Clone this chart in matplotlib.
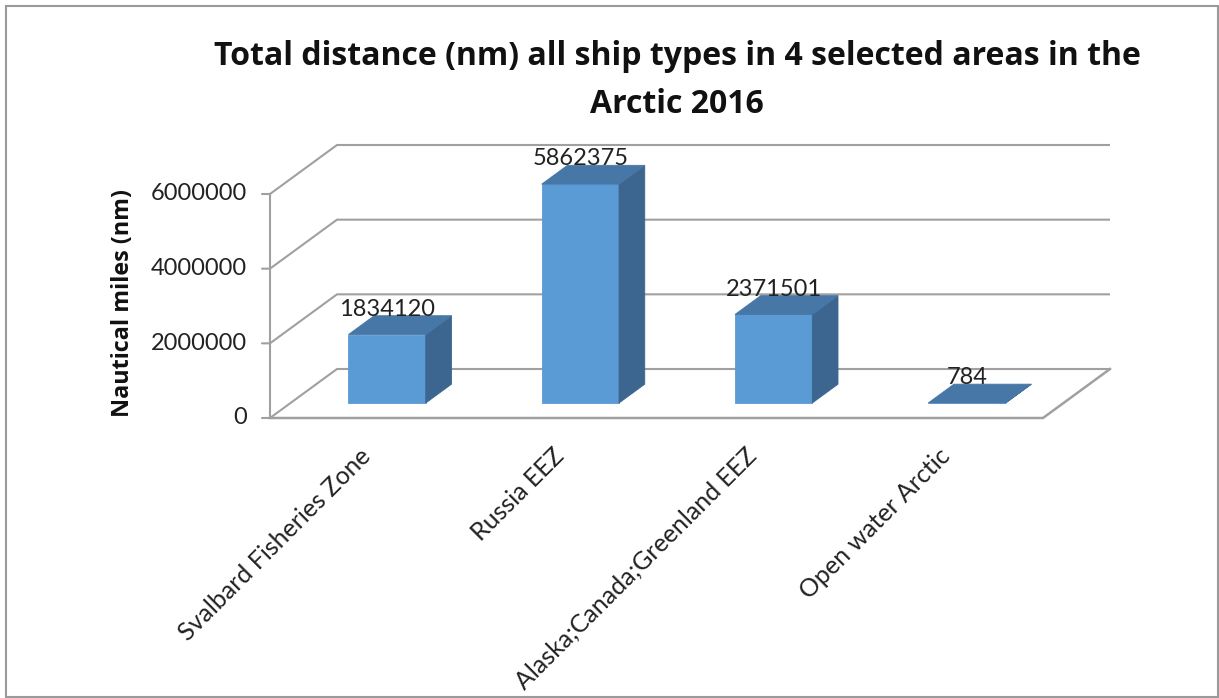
import matplotlib
matplotlib.use('Agg')
import matplotlib.pyplot as plt
from matplotlib.patches import Polygon, Rectangle
from matplotlib.transforms import offset_copy

# ---------------- data ----------------
categories = ['Svalbard Fisheries Zone', 'Russia EEZ',
              'Alaska;Canada;Greenland EEZ', 'Open water Arctic']
values = [1834120, 5862375, 2371501, 784]
yticks = [0, 2000000, 4000000, 6000000]
title_lines = ['Total distance (nm) all ship types in 4 selected areas in the',
               'Arctic 2016']
ylabel = 'Nautical miles (nm)'

# ---------------- style / layout ----------------
plt.rcParams['font.family'] = ['Lato', 'DejaVu Sans']
BOLD_FAMILY = ['Open Sans', 'DejaVu Sans']
W, H = 1219, 698
fig = plt.figure(figsize=(W / 100, H / 100), dpi=100)

GRID = '#A0A0A0'
FRONT = '#5B9BD5'
TOP = '#4677A6'
SIDE = '#3C6690'
TXT = '#222222'

# axes rectangle = front plane of the 3-D box (0..4 categories, 0..6M)
px_left, px_right = 270, 1043
px_zero, px_top = 418, 194
ax = fig.add_axes([px_left / W, 1 - px_zero / H,
                   (px_right - px_left) / W, (px_zero - px_top) / H])
ncat = len(categories)
ymax = yticks[-1]
ax.set_xlim(0, ncat)
ax.set_ylim(0, ymax)
ax.axis('off')

ppx = (px_right - px_left) / ncat        # pixels per category
ppy = (px_zero - px_top) / ymax          # pixels per value unit
DX = 67 / ppx                            # depth shift (x) in data units
DY = 49 / ppy                            # depth shift (y) in data units


def P(x, v, z):
    return (x + z * DX, v + z * DY)


# gridlines: left side wall diagonal + back wall horizontal
for t in yticks:
    a, b, c = P(0, t, 0), P(0, t, 1), P(ncat, t, 1)
    ax.plot([a[0], b[0], c[0]], [a[1], b[1], c[1]], color=GRID, lw=1.5,
            clip_on=False, zorder=1, solid_capstyle='butt')

# floor front and right edges
a, b, c = P(0, 0, 0), P(ncat, 0, 0), P(ncat, 0, 1)
ax.plot([a[0], b[0], c[0]], [a[1], b[1], c[1]], color=GRID, lw=1.8,
        clip_on=False, zorder=1)

# vertical value axis with outward ticks
ax.plot([0, 0], [0, ymax], color=GRID, lw=1.5, clip_on=False, zorder=1)
lab_tr = offset_copy(ax.transData, fig=fig, x=-23, y=0, units='dots')
for t in yticks:
    ax.annotate('', xy=(0, t), xytext=(-8, 0), textcoords='offset pixels',
                arrowprops=dict(arrowstyle='-', color=GRID, lw=1.5,
                                shrinkA=0, shrinkB=0))
    ax.text(0, t, f'{t}', transform=lab_tr, ha='right', va='center',
            fontsize=17, color=TXT)

# bars
z0, z1 = 0.306, 0.69
bw = 0.4
for i, v in enumerate(values):
    xc = i + 0.5
    xl, xr = xc - bw / 2, xc + bw / 2
    front = [P(xl, 0, z0), P(xr, 0, z0), P(xr, v, z0), P(xl, v, z0)]
    top = [P(xl, v, z0), P(xr, v, z0), P(xr, v, z1), P(xl, v, z1)]
    side = [P(xr, 0, z0), P(xr, 0, z1), P(xr, v, z1), P(xr, v, z0)]
    for poly, col in ((front, FRONT), (side, SIDE), (top, TOP)):
        ax.add_patch(Polygon(poly, closed=True, facecolor=col, edgecolor=col,
                             lw=0.6, clip_on=False, zorder=3))
    lx = P(xc, v, z0)[0]
    ly = P(xc, v, z1)[1]
    ax.text(lx, ly, f'{v}', ha='center', va='baseline', fontsize=17,
            color=TXT, zorder=4, clip_on=False)

# category labels
cat_tr = offset_copy(ax.transData, fig=fig, x=0, y=-34, units='dots')
for i, c in enumerate(categories):
    ax.text(i + 0.5, 0, c, transform=cat_tr, rotation=45,
            rotation_mode='anchor', ha='right', va='center', fontsize=18,
            color=TXT)

# titles
fig.text(677 / W, 1 - 65 / H, title_lines[0], ha='center', va='baseline',
         fontsize=23, fontweight='bold', color='#111111', family=BOLD_FAMILY)
fig.text(677 / W, 1 - 113 / H, title_lines[1], ha='center', va='baseline',
         fontsize=23, fontweight='bold', color='#111111', family=BOLD_FAMILY)

# y axis label
fig.text(123 / W, 1 - 303 / H, ylabel, rotation=90, ha='center', va='center',
         fontsize=16.8, fontweight='bold', color='#111111', family=BOLD_FAMILY)

# outer border
fig.patches.append(Rectangle((6 / W, 1 / H), 1212 / W, 691 / H, fill=False,
                             edgecolor='#9A9A9A', lw=1.5,
                             transform=fig.transFigure))

fig.savefig('out.png', dpi=100)
